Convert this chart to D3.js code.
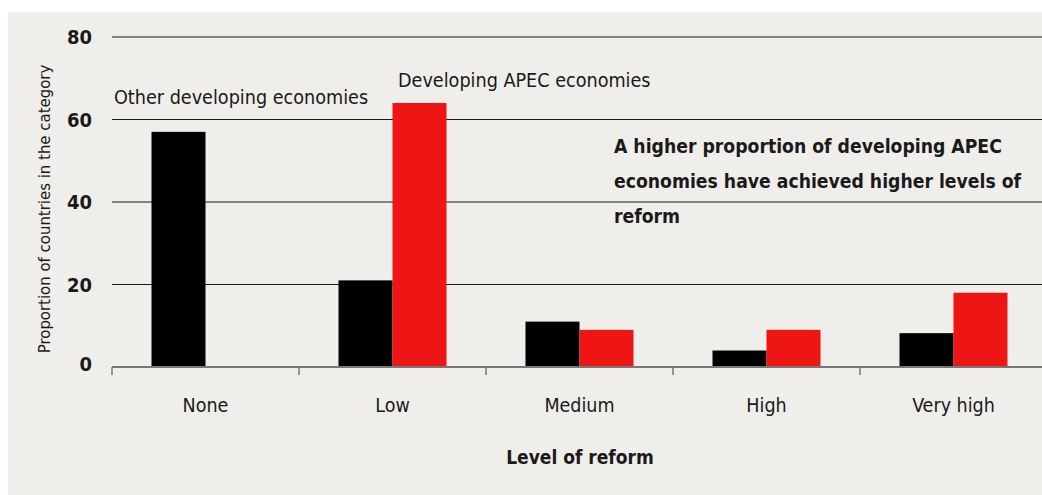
<!DOCTYPE html>
<html><head><meta charset="utf-8">
<script src="https://cdn.jsdelivr.net/npm/d3@7"></script>
<style>
html,body{margin:0;padding:0;background:#fff;}
svg text{font-family:"Liberation Sans Narrow","DejaVu Sans Condensed",sans-serif;fill:#1a1a1a;}
</style></head>
<body>
<svg id="c" width="1042" height="495"></svg>
<script>
const categories = ["None","Low","Medium","High","Very high"];
const seriesNames = ["Other developing economies","Developing APEC economies"];
const otherValues = [57, 21, 11, 4, 8.2];
const apecValues = [0, 64, 9, 9, 18];
const yTicks = [0,20,40,60,80];
const colors = ["#000000","#ee1515"];

const svg = d3.select("#c");
svg.append("rect").attr("x",8).attr("y",12).attr("width",1034).attr("height",483).attr("fill","#efeeea");

const x = d3.scaleBand().domain(categories).range([112,1047]).paddingInner(0).paddingOuter(0);
const y = d3.scaleLinear().domain([0,80]).range([367,37]);
const barW = 54;

// gridlines
svg.append("g").selectAll("line").data(yTicks.filter(d=>d>0)).join("line")
  .attr("x1",112).attr("x2",1042).attr("y1",d=>y(d)).attr("y2",d=>y(d))
  .attr("stroke","#1a1a1a").attr("stroke-width",1.2);

// y tick labels
svg.append("g").selectAll("text").data(yTicks).join("text")
  .attr("x",92).attr("y",d=>y(d)).attr("dy",d=>d===0?"0.2em":"0.35em")
  .attr("text-anchor","end").attr("font-size",20).attr("font-weight","bold").text(d=>d);

// bars
const series = [otherValues, apecValues];
series.forEach((vals,si)=>{
  svg.append("g").selectAll("rect").data(vals).join("rect")
    .attr("x",(d,i)=>x(categories[i])+x.bandwidth()/2-barW+si*barW)
    .attr("width",barW)
    .attr("y",d=>y(d))
    .attr("height",d=>y(0)-y(d))
    .attr("fill",colors[si]);
});

// x axis
const gx = svg.append("g").attr("transform",`translate(0,${y(0)})`);
gx.append("line").attr("x1",112).attr("x2",1042).attr("y1",0).attr("y2",0).attr("stroke","#777").attr("stroke-width",2);
gx.selectAll("line.tk").data(categories).join("line").attr("class","tk")
  .attr("x1",d=>x(d)).attr("x2",d=>x(d)).attr("y1",0).attr("y2",8).attr("stroke","#777").attr("stroke-width",1.5);
gx.selectAll("text").data(categories).join("text")
  .attr("x",d=>x(d)+x.bandwidth()/2).attr("y",45).attr("text-anchor","middle")
  .attr("font-size",19.5).text(d=>d);

// axis titles
svg.append("text").attr("x",580).attr("y",464).attr("text-anchor","middle")
  .attr("font-size",19).attr("font-weight","bold").text("Level of reform");
svg.append("text").attr("transform","translate(50,209) rotate(-90)").attr("text-anchor","middle")
  .attr("font-size",16.6).text("Proportion of countries in the category");

// series labels
svg.append("text").attr("x",114).attr("y",104).attr("font-size",19.6).text(seriesNames[0]);
svg.append("text").attr("x",398).attr("y",87).attr("font-size",19.6).text(seriesNames[1]);

// annotation
const note = ["A higher proportion of developing APEC","economies have achieved higher levels of","reform"];
svg.append("g").selectAll("text").data(note).join("text")
  .attr("x",614).attr("y",(d,i)=>153+i*35).attr("font-size",19.2).attr("font-weight","bold").text(d=>d);
</script>
</body></html>
